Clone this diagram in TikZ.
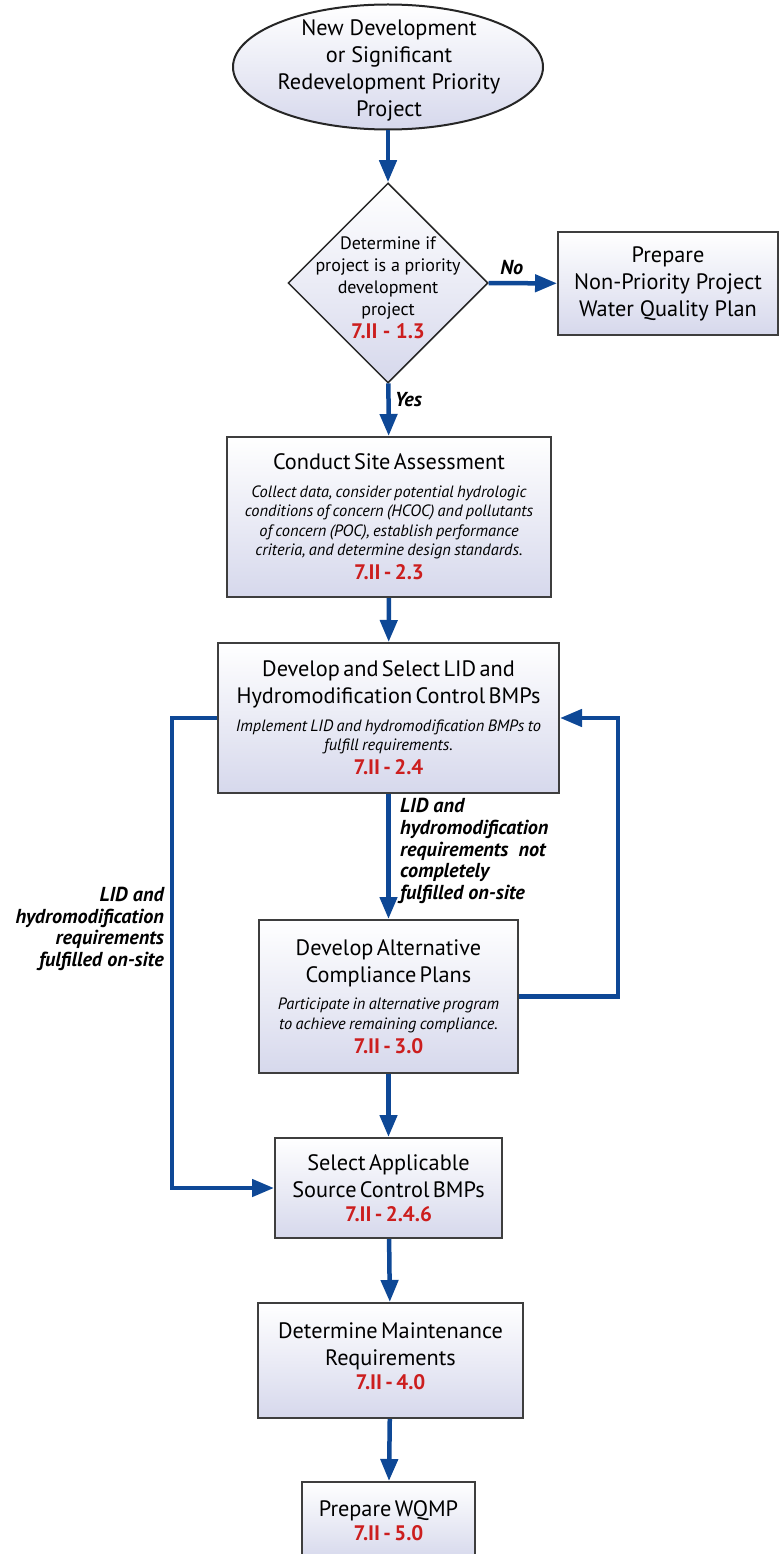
\documentclass[tikz,border=0pt]{standalone}
\usepackage{fontspec}
\setmainfont{PT Sans}
\usetikzlibrary{%
  arrows.meta,%
  shapes.geometric,% ellipse, diamond
  positioning%
}
\definecolor{flowblue}{RGB}{14,72,150}
\definecolor{secred}{RGB}{204,30,30}
\definecolor{boxbot}{RGB}{214,216,236}
\definecolor{boxline}{RGB}{62,62,62}
\newcommand{\ttlfont}{\fontsize{22.3}{27}\selectfont}
\newcommand{\dscfont}{\fontsize{16.4}{19.5}\selectfont\itshape}
\newcommand{\secfont}{\fontsize{21}{24}\selectfont\bfseries\color{secred}}
\newcommand{\lblfont}{\fontsize{20.2}{21.6}\selectfont\bfseries\itshape}

\begin{document}
\begin{tikzpicture}[
  x=1pt, y=-1pt,
  >={Triangle[width=17pt,length=22pt]},
  flow/.style={->, draw=flowblue, line width=4.5pt},
  stepbox/.style={rectangle, draw=boxline, line width=2pt, top color=white, bottom color=boxbot, align=center, inner sep=2pt},
  startbox/.style={ellipse, draw=black!85, line width=2pt, top color=white, bottom color=boxbot, inner sep=0pt, minimum width=310, minimum height=125},
  decbox/.style={diamond, draw=black!85, line width=1.5pt, top color=white, bottom color=boxbot, inner sep=0pt, minimum width=200, minimum height=200},
  cond/.style={font=\lblfont, inner sep=0pt}
]
\useasboundingbox (0,0) rectangle (780,1554);
\clip (0,0) rectangle (780,1554);

\node[startbox] (start) at (388,67) {};
\node[align=center, font=\ttlfont] (starttxt) at (389,70) {New Development\\or Significant\\Redevelopment Priority\\Project};

\node[decbox] (decide) at (388,283) {};
\node[align=center, font=\fontsize{18}{22}\selectfont] (decidetxt) at (388,288)
  {Determine if\\project is a priority\\development\\project\\[1pt]{\secfont 7.II - 1.3}};

\node[stepbox, minimum width=220, minimum height=103, font=\ttlfont] (npp) at (668,283.5)
  {Prepare\\Non-Priority Project\\Water Quality Plan};

\node[stepbox, minimum width=324, minimum height=160, text width=318] (site) at (389,517) {%
  {\ttlfont Conduct Site Assessment\par}\vspace{8pt}
  {\dscfont Collect data, consider potential hydrologic\\conditions of concern (HCOC) and pollutants\\of concern (POC), establish performance\\criteria, and determine design standards.\par}
  {\secfont 7.II - 2.3\par}};

\node[stepbox, minimum width=341, minimum height=150, text width=335] (bmp) at (388.5,718) {%
  {\ttlfont Develop and Select LID and\\Hydromodification Control BMPs\par}\vspace{8pt}
  {\dscfont Implement LID and hydromodification BMPs to\\fulfill requirements.\par}
  {\secfont 7.II - 2.4\par}};

\node[stepbox, minimum width=259, minimum height=153, text width=253] (alt) at (388.5,996.5) {%
  {\ttlfont Develop Alternative\\Compliance Plans\par}\vspace{8pt}
  {\dscfont Participate in alternative program\\to achieve remaining compliance.\par}
  {\secfont 7.II - 3.0\par}};

\node[stepbox, minimum width=227, minimum height=100, text width=221] (src) at (388.5,1188) {%
  {\ttlfont Select Applicable\\Source Control BMPs\par}
  {\secfont 7.II - 2.4.6\par}};

\node[stepbox, minimum width=265, minimum height=115, text width=259] (maint) at (390.5,1360.5) {%
  {\ttlfont Determine Maintenance\\Requirements\par}
  {\secfont 7.II - 4.0\par}\vspace{9pt}\nointerlineskip\hbox{}};

\node[stepbox, minimum width=173, minimum height=78, text width=167] (wqmp) at (388.5,1521) {%
  {\ttlfont Prepare WQMP\par}
  {\secfont 7.II - 5.0\par}};

% main line
\draw[flow] (start) -- (decide);
\draw[flow] (decide) -- node[cond, above=6pt, pos=0.34] (nolbl) {No} (npp);
\draw[flow] (decide) -- node[cond, right=4pt, pos=0.3] (yeslbl) {Yes} (site);
\draw[flow] (site) -- (bmp);
\draw[flow] (bmp) -- (alt);
\draw[flow] (alt) -- (src);
\draw[flow] (src) -- (maint);
\draw[flow] (maint) -- (wqmp);

% loops
\draw[flow] (alt.east) -- ++(99,0) |- (bmp.east);
\draw[flow] (bmp.west) -- ++(-45,0) |- (src.west);

\node[cond, align=left, anchor=west] (notfull) at (400,851)
  {LID and\\hydromodification\\requirements~~not\\completely\\fulfilled on-site};
\node[cond, align=right, anchor=east] (full) at (164,929)
  {LID and\\hydromodification\\requirements\\fulfilled on-site};

\end{tikzpicture}
\end{document}
